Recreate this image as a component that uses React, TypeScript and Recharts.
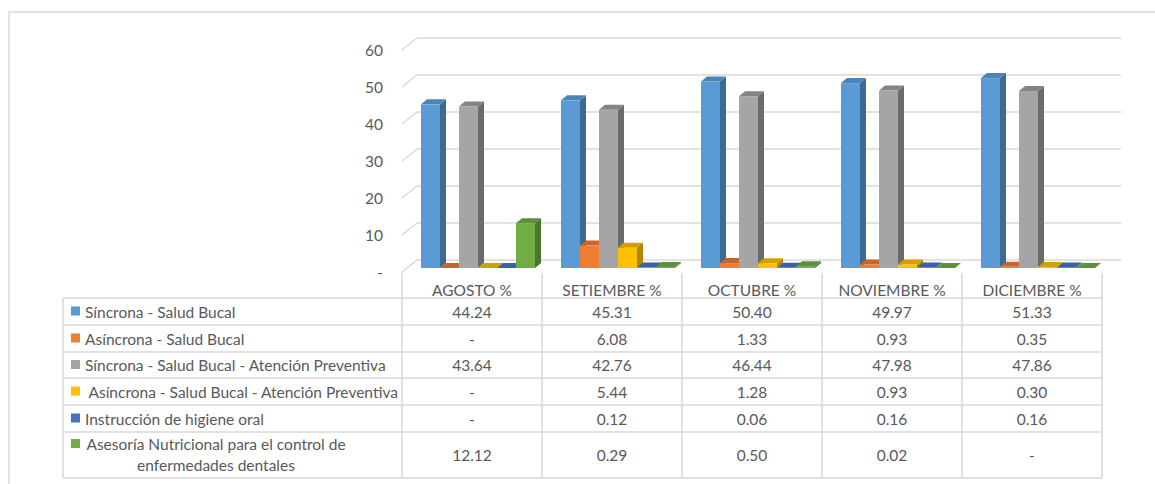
import { BarChart, Bar, XAxis, YAxis, CartesianGrid } from 'recharts';

const months = ['AGOSTO %', 'SETIEMBRE %', 'OCTUBRE %', 'NOVIEMBRE %', 'DICIEMBRE %'];

const sincrona = [44.24, 45.31, 50.4, 49.97, 51.33];
const asincrona = [0, 6.08, 1.33, 0.93, 0.35];
const sincronaPrev = [43.64, 42.76, 46.44, 47.98, 47.86];
const asincronaPrev = [0, 5.44, 1.28, 0.93, 0.3];
const higiene = [0, 0.12, 0.06, 0.16, 0.16];
const nutricion = [12.12, 0.29, 0.5, 0.02, 0];

const yTicks = [0, 10, 20, 30, 40, 50, 60];

type Serie = { key: string; label: string[]; values: number[]; color: string; side: string; top: string };

const series: Serie[] = [
  { key: 's1', label: ['Síncrona - Salud Bucal'], values: sincrona, color: '#5B9BD5', side: '#3C6A94', top: '#4C84B8' },
  { key: 's2', label: ['Asíncrona - Salud Bucal'], values: asincrona, color: '#ED7D31', side: '#A5561F', top: '#C8652A' },
  { key: 's3', label: ['Síncrona - Salud Bucal - Atención Preventiva'], values: sincronaPrev, color: '#A5A5A5', side: '#6B6B6B', top: '#848484' },
  { key: 's4', label: [' Asíncrona - Salud Bucal - Atención Preventiva'], values: asincronaPrev, color: '#FFC000', side: '#B08600', top: '#D4A000' },
  { key: 's5', label: ['Instrucción de higiene oral'], values: higiene, color: '#4472C4', side: '#2D4E88', top: '#3A60A6' },
  { key: 's6', label: ['Asesoría Nutricional para el control de', 'enfermedades dentales'], values: nutricion, color: '#70AD47', side: '#4A7530', top: '#5C913A' },
];

const data = months.map((m, i) => {
  const row: Record<string, string | number> = { month: m };
  series.forEach((s) => (row[s.key] = s.values[i]));
  return row;
});

const W = 1155;
const H = 484;
const FONT = 'Lato, "Open Sans", sans-serif';
const TXT = '#595959';
const LINE = '#D9D9D9';

// chart frame
const LEFT = 402;
const RIGHT = 1102;
const TOP = 50;
const FLOOR = 272;
const BAND_HALF = (RIGHT - LEFT) / months.length / 2;

// 3d offsets: back wall, bar plane, bar depth
const WALL_DX = 15;
const WALL_DY = -12;
const BAR_DX = 5;
const BAR_DY = -4;
const DEPTH_DX = 6;
const DEPTH_DY = -5;

// table rows (y from top of page)
const TABLE_LEFT = 63;
const HEADER_TOP = 273;
const rowLines = [298, 325, 352, 378, 405, 432, 478];
const fmt = (v: number) => (v === 0 ? '-' : v.toFixed(2));

const Bar3D = (colors: Serie) => (props: any) => {
  const { x, y, width, height } = props;
  if (x == null || y == null) return null;
  const fx = x + BAR_DX;
  const fy = y + BAR_DY;
  const h = Math.max(height, 0);
  return (
    <g>
      <polygon
        points={`${fx + width},${fy} ${fx + width + DEPTH_DX},${fy + DEPTH_DY} ${fx + width + DEPTH_DX},${fy + DEPTH_DY + h} ${fx + width},${fy + h}`}
        fill={colors.side}
      />
      <polygon
        points={`${fx},${fy} ${fx + DEPTH_DX},${fy + DEPTH_DY} ${fx + width + DEPTH_DX},${fy + DEPTH_DY} ${fx + width},${fy}`}
        fill={colors.top}
      />
      {h > 0 && <rect x={fx} y={fy} width={width} height={h} fill={colors.color} />}
    </g>
  );
};

const WallLine = (props: any) => {
  const { x1, y1, x2, y2 } = props;
  return (
    <g>
      <line x1={x1} y1={y1} x2={x1 + WALL_DX} y2={y1 + WALL_DY} stroke={LINE} strokeWidth={1.5} />
      <line x1={x1 + WALL_DX} y1={y1 + WALL_DY} x2={x2 + WALL_DX + 4} y2={y2 + WALL_DY} stroke={LINE} strokeWidth={1.5} />
    </g>
  );
};

const rowCenter = (r: number) => (rowLines[r] + rowLines[r + 1]) / 2;

// each category tick draws its own column of the data table
const TableColumn = (props: any) => {
  const { x, payload, index } = props;
  const l = x - BAND_HALF;
  const r = x + BAND_HALF;
  return (
    <g fontFamily={FONT} fontSize={15.5} fill={TXT}>
      <text x={x} y={290} textAnchor="middle" dominantBaseline="central">
        {payload.value}
      </text>
      {series.map((s, i) => (
        <text key={s.key} x={x} y={rowCenter(i)} textAnchor="middle" dominantBaseline="central">
          {fmt(s.values[index])}
        </text>
      ))}
      <line x1={r} y1={HEADER_TOP} x2={r} y2={rowLines[rowLines.length - 1]} stroke={LINE} strokeWidth={1.5} />
      {rowLines.map((ry) => (
        <line key={ry} x1={l} y1={ry} x2={r} y2={ry} stroke={LINE} strokeWidth={1.5} />
      ))}
      {index === 0 && (
        <g>
          <line x1={l} y1={HEADER_TOP} x2={l} y2={rowLines[rowLines.length - 1]} stroke={LINE} strokeWidth={1.5} />
          <line x1={TABLE_LEFT} y1={rowLines[0]} x2={TABLE_LEFT} y2={rowLines[rowLines.length - 1]} stroke={LINE} strokeWidth={1.5} />
          {rowLines.map((ry) => (
            <line key={ry} x1={TABLE_LEFT} y1={ry} x2={l} y2={ry} stroke={LINE} strokeWidth={1.5} />
          ))}
          {series.map((s, i) => {
            const cy = rowCenter(i);
            if (s.label.length === 1) {
              return (
                <g key={s.key}>
                  <rect x={71} y={cy - 5} width={9} height={9} fill={s.color} />
                  <text x={85} y={cy} dominantBaseline="central" style={{ whiteSpace: 'pre' }}>
                    {s.label[0]}
                  </text>
                </g>
              );
            }
            return (
              <g key={s.key}>
                <rect x={71} y={cy - 16} width={9} height={9} fill={s.color} />
                <text x={216} y={cy - 11} textAnchor="middle" dominantBaseline="central">
                  {s.label[0]}
                </text>
                <text x={216} y={cy + 10} textAnchor="middle" dominantBaseline="central">
                  {s.label[1]}
                </text>
              </g>
            );
          })}
        </g>
      )}
    </g>
  );
};

const App = () => {
  return (
    <div style={{ position: 'absolute', left: 0, top: 0, width: W, height: H, background: '#fff' }}>
      <svg width={W} height={H} style={{ position: 'absolute', left: 0, top: 0 }}>
        <rect x={9} y={12} width={W} height={H} fill="none" stroke={LINE} strokeWidth={1.5} />
      </svg>
      <div style={{ position: 'absolute', left: 0, top: 0 }}>
        <BarChart
          width={W}
          height={H}
          data={data}
          margin={{ top: TOP, right: W - RIGHT, bottom: H - FLOOR - 30, left: LEFT - 60 }}
          barCategoryGap="10%"
          barGap={0}
        >
          <CartesianGrid vertical={false} horizontal={(p: any) => <WallLine key={p.key ?? p.index} {...p} />} />
          <XAxis
            dataKey="month"
            height={30}
            axisLine={false}
            tickLine={false}
            tickSize={0}
            tickMargin={0}
            interval={0}
            tick={(p: any) => <TableColumn key={p.index} {...p} />}
          />
          <YAxis
            width={60}
            domain={[0, 60]}
            ticks={yTicks}
            axisLine={false}
            tickLine={false}
            tickSize={0}
            tickMargin={19}
            tickFormatter={(v: number) => (v === 0 ? '-' : String(v))}
            tick={{ fontFamily: FONT, fontSize: 15.5, fill: TXT }}
          />
          {series.map((s) => (
            <Bar key={s.key} dataKey={s.key} shape={Bar3D(s)} isAnimationActive={false} />
          ))}
        </BarChart>
      </div>
    </div>
  );
};

export default App;
